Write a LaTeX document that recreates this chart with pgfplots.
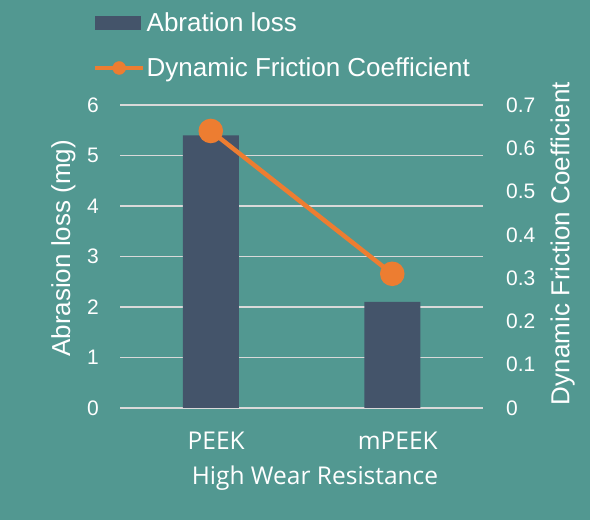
\documentclass[border=0pt]{standalone}
\usepackage{pgfplots}
\pgfplotsset{compat=1.18}
\usepackage{fontspec}
\setmainfont{Liberation Sans}
\newfontfamily\catfont{Open Sans}
\definecolor{bgcol}{RGB}{82,152,145}
\definecolor{barcol}{RGB}{68,84,106}
\definecolor{linecol}{RGB}{237,125,49}
\definecolor{gridcol}{RGB}{217,217,217}
\begin{document}
\begin{tikzpicture}[x=1bp,y=1bp]
\fill[bgcol] (0,0) rectangle (590,520);
\begin{axis}[
  at={(120bp,112bp)}, anchor=south west,
  scale only axis, width=363bp, height=303bp,
  xmin=-0.5, xmax=1.5, ymin=0, ymax=6,
  xtick={0,1}, xticklabels={PEEK,mPEEK},
  ytick={0,1,2,3,4,5,6},
  major tick length=0pt,
  tick style={draw=none},
  axis line style={draw=none},
  ymajorgrids=true,
  grid style={gridcol, line width=1.5bp},
  /pgf/number format/assume math mode=true,
  yticklabel style={font=\fontsize{21bp}{25bp}\selectfont, text=white, anchor=east, inner sep=0pt, xshift=-21bp},
  xticklabel style={font=\catfont\fontsize{24.5bp}{29bp}\selectfont, text=white, anchor=base, inner sep=0pt, yshift=-41.3bp, xshift=5.5bp},
  ylabel={Abrasion loss (mg)},
  ylabel style={font=\fontsize{26bp}{30bp}\selectfont, text=white, at={(rel axis cs:-0.1377,0.527)}, anchor=base, inner sep=0pt},
  xlabel={High Wear Resistance},
  xlabel style={font=\catfont\fontsize{24.5bp}{29bp}\selectfont, text=white, at={(rel axis cs:0.5372,0)}, anchor=base, inner sep=0pt, yshift=-77bp},
  legend style={at={(rel axis cs:-0.0744,1.306)}, anchor=north west, draw=none, fill=none, inner sep=0pt,
    font=\fontsize{26bp}{30bp}\selectfont, text=white, row sep=25bp, column sep=1.5bp, nodes={inner sep=0pt}},
  legend cell align=left,
]
\addplot[ybar, bar width=56bp, fill=barcol, draw=none,
  legend image code/.code={\fill[barcol] (0bp,-7bp) rectangle (46bp,7bp);}]
  coordinates {(0,5.4) (1,2.1)};
\addlegendentry{Abration loss}
\addlegendimage{legend image code/.code={\draw[linecol, line width=4bp] (0bp,0bp) -- (48bp,0bp); \fill[linecol] (24bp,0bp) circle (6.5bp);}}
\addlegendentry{Dynamic Friction Coefficient}
\end{axis}
\begin{axis}[
  at={(120bp,112bp)}, anchor=south west,
  scale only axis, width=363bp, height=303bp,
  xmin=-0.5, xmax=1.5, ymin=0, ymax=0.7,
  axis x line=none,
  axis y line*=right,
  ytick={0,0.1,0.2,0.3,0.4,0.5,0.6,0.7},
  major tick length=0pt,
  tick style={draw=none},
  axis line style={draw=none},
  /pgf/number format/assume math mode=true,
  yticklabel style={font=\fontsize{21bp}{25bp}\selectfont, text=white, anchor=west, inner sep=0pt, xshift=23bp},
  ylabel={Dynamic Friction Coefficient},
  ylabel style={font=\fontsize{26bp}{30bp}\selectfont, text=white, at={(rel axis cs:1.2377,0.5429)}, anchor=base, inner sep=0pt},
]
\addplot[linecol, line width=4.5bp, mark=*, mark size=10bp, mark options={fill=linecol, draw=none}]
  coordinates {(0,0.64) (1,0.31)};
\end{axis}
\end{tikzpicture}
\end{document}
